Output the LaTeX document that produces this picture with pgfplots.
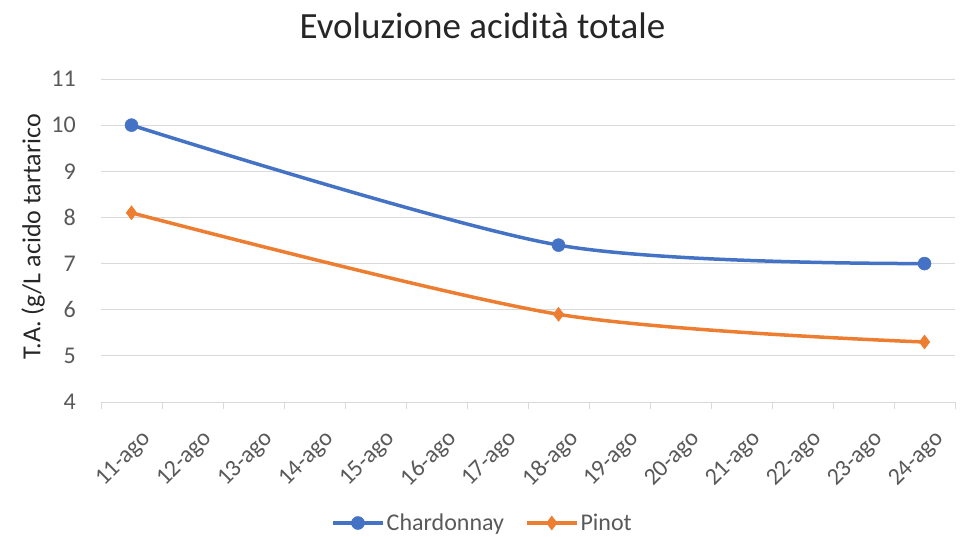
\documentclass[border=0pt]{standalone}
\usepackage{pgfplots}
\pgfplotsset{compat=1.18}
\usepackage{fontspec}
\setmainfont{Carlito}
\definecolor{cblue}{HTML}{4472C4}
\definecolor{corange}{HTML}{ED7D31}
\definecolor{gridc}{HTML}{D9D9D9}
\definecolor{tickc}{HTML}{595959}
\definecolor{titc}{HTML}{262626}
\begin{document}
\begin{tikzpicture}
\path[use as bounding box] (0,0) rectangle (965pt,536pt);
\begin{axis}[
  at={(101pt,134pt)}, anchor=south west,
  scale only axis, width=854pt, height=323pt,
  xmin=-0.5, xmax=13.5, ymin=4, ymax=11,
  axis lines*=left,
  separate axis lines,
  x axis line style={draw=gridc, line width=1pt, -},
  y axis line style={draw=none},
  ytick={4,...,11},
  ymajorgrids, grid style={gridc, line width=1pt},
  xtick={0,...,13},
  xticklabels={11-ago,12-ago,13-ago,14-ago,15-ago,16-ago,17-ago,18-ago,19-ago,20-ago,21-ago,22-ago,23-ago,24-ago},
  minor xtick={-0.5,0.5,...,13.5},
  tick align=outside,
  major tick length=0pt,
  minor tick length=7pt,
  minor x tick style={draw=gridc, line width=1pt},
  major tick style={draw=none},
  /pgf/number format/assume math mode=true,
  ticklabel style={font=\fontsize{24}{28}\selectfont, text=tickc, inner sep=0pt},
  xticklabel style={font=\fontsize{24}{28}\selectfont, rotate=45, anchor=north east, xshift=-12pt, yshift=-25pt},
  yticklabel style={anchor=east, xshift=-25pt},
  ylabel={T.A. (g/L acido tartarico},
  every axis y label/.style={at={(axis description cs:-0.0796,0.511)}, rotate=90, anchor=center, font=\fontsize{26}{30}\selectfont, text=titc},
  legend style={at={(0.4467,-0.3746)}, anchor=center, draw=none, fill=none,
    legend columns=2, font=\fontsize{24}{28}\selectfont, text=tickc,
    /tikz/every even column/.append style={column sep=19pt},
    legend cell align=left},
  legend image code/.code={\draw[mark repeat=2,mark phase=2,#1] plot coordinates {(0pt,0pt)(25pt,0pt)(50pt,0pt)};},
  clip=false,
]
\addplot[cblue, line width=3.5pt, smooth, tension=0.5, mark=*, mark size=6.5pt, mark options={solid, fill=cblue, draw=cblue, line width=0.5pt}]
  coordinates {(0,10) (7,7.4) (13,7.0)};
\addlegendentry{Chardonnay}
\addplot[corange, line width=3.5pt, smooth, tension=0.5, mark=diamond*, mark size=7pt, mark options={solid, fill=corange, draw=corange, line width=0.5pt}]
  coordinates {(0,8.1) (7,5.9) (13,5.3)};
\addlegendentry{Pinot}
\end{axis}
\node[font=\fontsize{37}{42}\selectfont, text=titc] at (482.5pt,510pt) {Evoluzione acidità totale};
\end{tikzpicture}
\end{document}
